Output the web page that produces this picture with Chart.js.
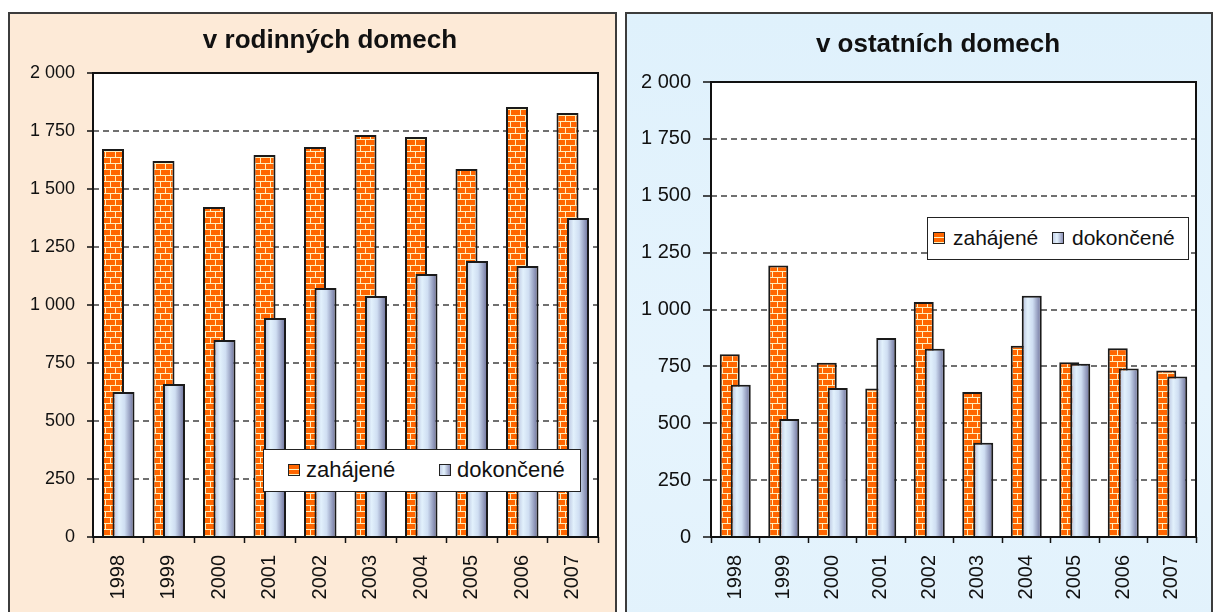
<!DOCTYPE html>
<html>
<head>
<meta charset="utf-8">
<script src="https://cdn.jsdelivr.net/npm/chart.js@4.4.1/dist/chart.umd.min.js"></script>
<style>
    body {
        margin: 0;
        width: 1215px;
        height: 612px;
        overflow: hidden;
        position: relative;
        background: #fff;
        font-family: "Liberation Sans", Arial, sans-serif;
    }
    .panel {
        position: absolute;
        top: 12px;
        height: 620px;
        border: 2px solid #3c3c3c;
        box-sizing: border-box;
    }
    #panelFamily { left: 8px; width: 609px; background: #fdead7; }
    #panelOther { left: 625px; width: 588px; background: linear-gradient(to bottom, #dff1fc, #e6f4fd 60%, #e2f2fc); }
    .panel canvas { position: absolute; left: 0; top: 0; }
    .title {
        position: absolute;
        width: 400px;
        text-align: center;
        font-weight: bold;
        font-size: 26px;
        line-height: 30px;
        color: #111;
    }
    .legend {
        position: absolute;
        background: #fff;
        border: 1.5px solid #222;
        box-sizing: border-box;
        font-size: 21px;
        color: #111;
    }
    .legend span { position: absolute; white-space: nowrap; }
    .swatch { width: 12px; height: 12px; box-sizing: border-box; border: 1.5px solid #222; }
    .sw0 { background: repeating-linear-gradient(to bottom, #ff6600 0 4px, #fff2c0 4px 5px); }
    .sw1 { background: linear-gradient(to right, #c4cfe6, #e3f2fd 40%, #8c90b6); }
</style>
</head>
<body>
<div class="panel" id="panelFamily">
    <canvas id="chartFamily" width="605" height="598"></canvas>
</div>
<div class="panel" id="panelOther">
    <canvas id="chartOther" width="584" height="598"></canvas>
</div>
<div class="title" style="left:130px; top:24px;">v rodinných domech</div>
<div class="title" style="left:738px; top:28px;">v ostatních domech</div>
<div class="legend" id="legendFamily" style="left:263px; top:449px; width:318px; height:43px; font-size:22px;"></div>
<div class="legend" id="legendOther" style="left:927px; top:217px; width:262px; height:43px;"></div>

<script>
const years = ['1998', '1999', '2000', '2001', '2002', '2003', '2004', '2005', '2006', '2007'];
const seriesNames = ['zahájené', 'dokončené'];

// byty v rodinných domech
const familyStarted = [1672, 1621, 1422, 1647, 1681, 1733, 1724, 1586, 1853, 1828];
const familyCompleted = [625, 659, 849, 944, 1073, 1039, 1134, 1190, 1168, 1375];

// byty v ostatních domech
const otherStarted = [803, 1193, 766, 653, 1033, 637, 841, 768, 830, 732];
const otherCompleted = [669, 519, 655, 875, 828, 414, 1060, 761, 741, 706];

const yMax = 2000;
const yStep = 250;

function formatThousands(v) {
    if (v < 1000) {
        return String(v);
    }
    return Math.floor(v / 1000) + ' ' + String(v % 1000).padStart(3, '0');
}

function brickPattern(ctx) {
    const tile = document.createElement('canvas');
    tile.width = 10;
    tile.height = 12;
    const g = tile.getContext('2d');
    g.fillStyle = '#ff6600';
    g.fillRect(0, 0, 10, 12);
    g.fillStyle = '#fff0bc';
    g.fillRect(0, 5, 10, 1);
    g.fillRect(0, 11, 10, 1);
    g.fillRect(0, 0, 1, 5);
    g.fillRect(5, 6, 1, 5);
    return ctx.createPattern(tile, 'repeat');
}

function completedFill(catPct, barPct) {
    return (context) => {
        const chart = context.chart;
        const scale = chart.scales.x;
        if (!scale || !scale.width || context.dataIndex === undefined) {
            return '#dbe9f7';
        }
        const category = scale.width / chart.data.labels.length;
        const chunk = category * catPct / 2;
        const w = chunk * barPct;
        const cx = scale.getPixelForValue(context.dataIndex) + chunk / 2;
        const grad = chart.ctx.createLinearGradient(cx - w / 2, 0, cx + w / 2, 0);
        grad.addColorStop(0, '#b3bddb');
        grad.addColorStop(0.3, '#e2f1fc');
        grad.addColorStop(0.55, '#cfdef2');
        grad.addColorStop(1, '#656894');
        return grad;
    };
}

// white plot area, zahájené drawn under dokončené, then the frame
const plotFrame = {
    id: 'plotFrame',
    beforeDraw(chart) {
        const a = chart.chartArea;
        chart.ctx.save();
        chart.ctx.fillStyle = '#ffffff';
        chart.ctx.fillRect(a.left, a.top, a.width, a.height);
        chart.ctx.restore();
    },
    beforeDatasetsDraw(chart) {
        const a = chart.chartArea;
        const ctx = chart.ctx;
        ctx.save();
        ctx.beginPath();
        ctx.rect(a.left, a.top, a.width, a.height);
        ctx.clip();
        chart.data.datasets.forEach((d, i) => chart.getDatasetMeta(i).controller.draw());
        ctx.restore();
        return false;
    },
    afterDraw(chart) {
        const a = chart.chartArea;
        const ctx = chart.ctx;
        ctx.save();
        ctx.strokeStyle = '#111';
        ctx.lineWidth = 2;
        ctx.strokeRect(a.left, a.top, a.width, a.height);
        ctx.restore();
    },
};

function renderPanel(canvasId, started, completed, layout) {
    const canvas = document.getElementById(canvasId);
    const ctx = canvas.getContext('2d');

    // eslint-disable-next-line no-new
    new Chart(canvas, {
        type: 'bar',
        data: {
            labels: years,
            datasets: [
                {
                    label: seriesNames[0],
                    data: started,
                    backgroundColor: brickPattern(ctx),
                    borderColor: '#1a1a1a',
                    borderWidth: 2,
                    categoryPercentage: layout.catPct,
                    barPercentage: layout.barPct,
                },
                {
                    label: seriesNames[1],
                    data: completed,
                    backgroundColor: completedFill(layout.catPct, layout.barPct),
                    borderColor: '#1a1a1a',
                    borderWidth: 2,
                    categoryPercentage: layout.catPct,
                    barPercentage: layout.barPct,
                },
            ],
        },
        options: {
            responsive: false,
            animation: false,
            events: [],
            layout: {
                padding: { left: 0, right: layout.right, top: layout.top, bottom: 0 },
            },
            plugins: {
                legend: { display: false },
                title: { display: false },
                tooltip: { enabled: false },
            },
            scales: {
                x: {
                    afterFit: (s) => { s.height = 75; },
                    border: { display: false },
                    grid: {
                        offset: true,
                        drawOnChartArea: false,
                        drawTicks: true,
                        tickLength: 6,
                        tickColor: '#111',
                        tickWidth: 1.5,
                    },
                    ticks: {
                        autoSkip: false,
                        minRotation: 90,
                        maxRotation: 90,
                        padding: 12,
                        color: '#111',
                        font: { family: '"Liberation Sans", Arial, sans-serif', size: 20 },
                    },
                },
                y: {
                    min: 0,
                    max: yMax,
                    afterFit: (s) => { s.width = layout.yWidth; },
                    border: { display: false, dash: [6, 4] },
                    grid: {
                        color: (c) => (c.tick && (c.tick.value === 0 || c.tick.value === yMax) ? 'rgba(0,0,0,0)' : '#707070'),
                        lineWidth: 2,
                        tickLength: layout.tickLength,
                        tickColor: '#111',
                        tickWidth: 1.5,
                    },
                    ticks: {
                        stepSize: yStep,
                        padding: 12,
                        color: '#111',
                        font: { family: '"Liberation Sans", Arial, sans-serif', size: layout.yFont },
                        callback: (v) => formatThousands(v),
                    },
                },
            },
        },
        plugins: [plotFrame],
    });
}

function renderLegend(id, pos) {
    const box = document.getElementById(id);
    seriesNames.forEach((name, i) => {
        const sw = document.createElement('span');
        sw.className = 'swatch sw' + i;
        sw.style.left = pos.swatch[i] + 'px';
        sw.style.top = (pos.mid - 6) + 'px';
        box.appendChild(sw);
        const t = document.createElement('span');
        t.textContent = name;
        t.style.left = pos.text[i] + 'px';
        t.style.top = (pos.mid - 13) + 'px';
        t.style.lineHeight = '26px';
        box.appendChild(t);
    });
}

renderPanel('chartFamily', familyStarted, familyCompleted, {
    catPct: 0.416, barPct: 2.095, right: 17, top: 59, yWidth: 83, tickLength: 6, yFont: 18,
});
renderPanel('chartOther', otherStarted, otherCompleted, {
    catPct: 0.4536, barPct: 1.818, right: 15, top: 68, yWidth: 84, tickLength: 8, yFont: 20,
});

renderLegend('legendFamily', { swatch: [24, 175], text: [42, 193], mid: 20 });
renderLegend('legendOther', { swatch: [5, 124], text: [25, 144], mid: 20 });
</script>
</body>
</html>
